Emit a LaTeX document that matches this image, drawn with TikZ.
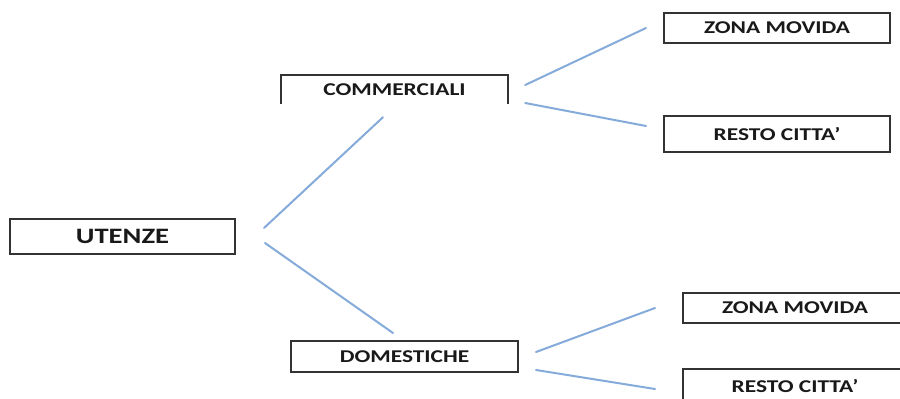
\documentclass[tikz,border=0pt]{standalone}
\usepackage{fontspec}
\setmainfont{Carlito}[FakeStretch=1.3]
\usetikzlibrary{calc}
\definecolor{boxline}{HTML}{333333}
\definecolor{conn}{HTML}{84ABDA}
\tikzset{
  box/.style={draw=boxline, line width=2pt, minimum width=#1, minimum height=30, inner sep=0pt,
    font=\fontsize{18}{20}\selectfont\bfseries, text=black!90},
  box/.default=226,
  openbox/.style={draw=none, minimum width=227, minimum height=29, inner sep=0pt,
    font=\fontsize{18}{20}\selectfont\bfseries, text=black!90},
  edgeline/.style={draw=conn, line width=2pt, line cap=round},
  bigtext/.style={font=\fontsize{22}{24}\selectfont\bfseries}
}
\begin{document}
\begin{tikzpicture}[x=1pt,y=-1pt]
\clip (0,0) rectangle (900,399);
\fill[white] (0,0) rectangle (900,399);
% nodes
\node[box=225, minimum height=35, bigtext] (ut) at (122.5,236.5) {UTENZE};
\node[openbox] (com) at (394.5,89.5) {COMMERCIALI};
\draw[boxline, line width=2pt] (com.south west) -- (com.north west) -- (com.north east) -- (com.south east);
\node[box] (zm1) at (777,28) {ZONA MOVIDA};
\node[box, minimum height=36] (rc1) at (777,134) {RESTO CITTA’};
\node[box=227, minimum height=31] (dom) at (404.5,356.5) {DOMESTICHE};
\node[box=224] (zm2) at (795,308) {ZONA MOVIDA};
\node[box=224, minimum height=35] (rc2) at (795,386.5) {\raisebox{2pt}{RESTO CITTA’}};
% connector ends
\coordinate (a1) at ($(ut.east)+(28,-8.5)$);
\coordinate (b1) at ($(com.south)+(-11.5,13)$);
\coordinate (a2) at ($(ut.east)+(29,6.5)$);
\coordinate (b2) at ($(dom.north)+(-11.5,-7)$);
\coordinate (a3) at ($(com.east)+(17,-4.5)$);
\coordinate (b3) at ($(zm1.west)+(-17,0)$);
\coordinate (a4) at ($(com.east)+(17,13.5)$);
\coordinate (b4) at ($(rc1.west)+(-17,-8)$);
\coordinate (a5) at ($(dom.east)+(17,-4.5)$);
\coordinate (b5) at ($(zm2.west)+(-27,0)$);
\coordinate (a6) at ($(dom.east)+(17,13.5)$);
\coordinate (b6) at ($(rc2.west)+(-27,2.5)$);
\draw[edgeline] (a1) -- (b1);
\draw[edgeline] (a2) -- (b2);
\draw[edgeline] (a3) -- (b3);
\draw[edgeline] (a4) -- (b4);
\draw[edgeline] (a5) -- (b5);
\draw[edgeline] (a6) -- (b6);
\end{tikzpicture}
\end{document}
